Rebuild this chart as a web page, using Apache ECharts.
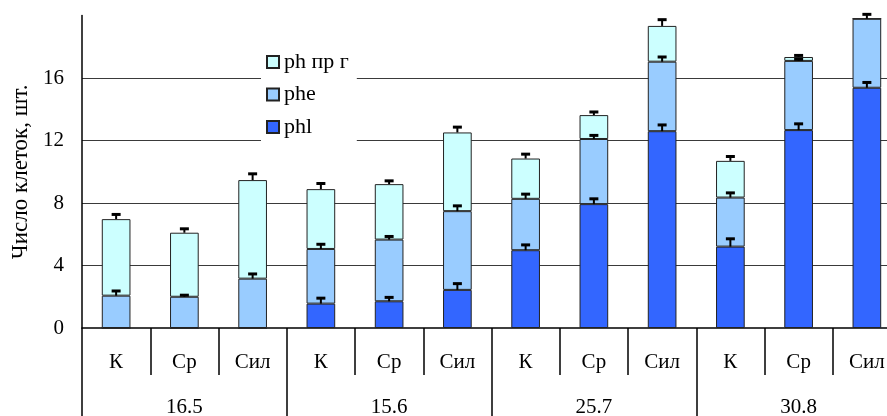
<!DOCTYPE html>
<html>
<head>
<meta charset="utf-8">
<script src="https://cdn.jsdelivr.net/npm/echarts@6/dist/echarts.min.js"></script>
<style>
  html, body { margin: 0; padding: 0; background: #fff; }
  #chart { width: 887px; height: 416px; }
</style>
</head>
<body>
<div id="chart"></div>
<script>
  // подписи осей
  const categories = ['К', 'Ср', 'Сил', 'К', 'Ср', 'Сил', 'К', 'Ср', 'Сил', 'К', 'Ср', 'Сил'];
  const groups = ['16.5', '15.6', '25.7', '30.8'];
  const yTicks = [0, 4, 8, 12, 16, 20];

  // значения (слои столбцов снизу вверх)
  const phl = [0, 0, 0, 1.56, 1.71, 2.44, 4.98, 7.93, 12.6, 5.21, 12.67, 15.38];
  const phe = [2.07, 2.0, 3.16, 3.5, 3.95, 5.04, 3.29, 4.17, 4.45, 3.14, 4.43, 4.42];
  const phr = [4.9, 4.1, 6.31, 3.83, 3.55, 5.04, 2.58, 1.53, 2.29, 2.35, 0.25, 0];

  // погрешности
  const phlErr = [null, null, null, 0.35, 0.25, 0.4, 0.34, 0.34, 0.4, 0.5, 0.4, 0.34];
  const pheErr = [0.3, 0.1, 0.3, 0.3, 0.2, 0.34, 0.3, 0.23, 0.3, 0.3, 0.1, 0.28];
  const phrErr = [0.3, 0.25, 0.4, 0.36, 0.21, 0.34, 0.28, 0.2, 0.4, 0.28, 0.1, null];

  const font = "'Liberation Serif', 'Times New Roman', serif";

  // точки для усов погрешностей
  const errData = [];
  categories.forEach((c, i) => {
    const t1 = phl[i], t2 = t1 + phe[i], t3 = t2 + phr[i];
    if (phlErr[i] != null) errData.push([i, t1, phlErr[i]]);
    if (pheErr[i] != null) errData.push([i, t2, pheErr[i]]);
    if (phrErr[i] != null) errData.push([i, t3, phrErr[i]]);
  });

  const barStyle = (color) => ({ color: color, borderColor: '#222', borderWidth: 1 });

  var myChart = echarts.init(document.getElementById('chart'));
  myChart.setOption({
    animation: false,
    backgroundColor: '#fff',
    grid: { left: 82, right: -14, top: 15.6, bottom: 88, containLabel: false, outerBoundsMode: 'none' },
    legend: {
      data: ['ph пр г', 'phe', 'phl'],
      orient: 'vertical',
      left: 261,
      top: 45,
      padding: [6, 8, 5, 5],
      backgroundColor: '#fff',
      itemWidth: 12,
      itemHeight: 12,
      itemGap: 10.5,
      icon: 'rect',
      textStyle: { fontFamily: font, fontSize: 22, color: '#000' },
      z: 10
    },
    xAxis: [
      {
        type: 'category',
        data: categories,
        position: 'bottom',
        axisLine: { lineStyle: { color: '#000', width: 1.5 } },
        axisTick: { show: true, length: 47, interval: 0, lineStyle: { color: '#000', width: 1.5 } },
        axisLabel: { interval: 0, margin: 24, fontFamily: font, fontSize: 21, color: '#000' }
      },
      {
        type: 'category',
        data: groups,
        position: 'bottom',
        axisLine: { show: false },
        axisTick: { show: true, length: 88, interval: 0, lineStyle: { color: '#000', width: 1.5 } },
        axisLabel: { interval: 0, margin: 69, fontFamily: font, fontSize: 21, color: '#000' }
      }
    ],
    yAxis: {
      type: 'value',
      name: 'Число клеток, шт.',
      nameLocation: 'middle',
      nameGap: 49,
      nameRotate: 90,
      nameTextStyle: { fontFamily: font, fontSize: 23, color: '#000' },
      min: yTicks[0],
      max: yTicks[yTicks.length - 1],
      interval: 4,
      axisLine: { show: true, lineStyle: { color: '#000', width: 1.5 } },
      axisTick: { show: false },
      axisLabel: {
        showMaxLabel: false,
        margin: 18,
        fontFamily: font, fontSize: 21, color: '#000'
      },
      splitLine: { show: true, showMinLine: false, showMaxLine: false, lineStyle: { color: '#3a3a3a', width: 1.2 } }
    },
    series: [
      { name: 'phl', type: 'bar', stack: 'all', data: phl, barWidth: '42%', itemStyle: barStyle('#3366FF') },
      { name: 'phe', type: 'bar', stack: 'all', data: phe, barWidth: '42%', itemStyle: barStyle('#99CCFF') },
      { name: 'ph пр г', type: 'bar', stack: 'all', data: phr, barWidth: '42%', itemStyle: barStyle('#CCFFFF') },
      {
        name: 'err',
        type: 'custom',
        z: 5,
        data: errData,
        encode: { x: 0, y: 1 },
        renderItem: function (params, api) {
          const i = api.value(0), top = api.value(1), err = api.value(2);
          const p0 = api.coord([i, top]);
          const p1 = api.coord([i, top + err]);
          return {
            type: 'group',
            children: [
              { type: 'line', shape: { x1: p0[0], y1: p0[1], x2: p1[0], y2: p1[1] }, style: { stroke: '#000', lineWidth: 2 } },
              { type: 'line', shape: { x1: p1[0] - 4.5, y1: p1[1], x2: p1[0] + 4.5, y2: p1[1] }, style: { stroke: '#000', lineWidth: 3 } }
            ]
          };
        }
      }
    ]
  });
</script>
</body>
</html>
